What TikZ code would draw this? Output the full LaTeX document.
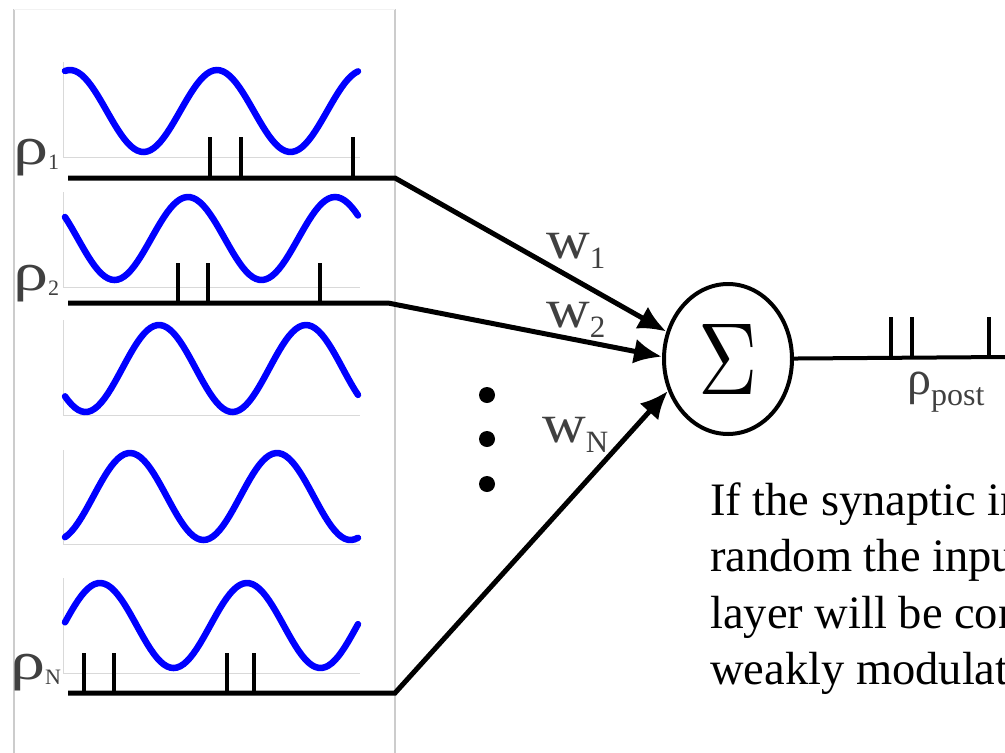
\documentclass[tikz,border=0pt]{standalone}
\usepackage{fontspec}
\setmainfont{Liberation Serif}
\usetikzlibrary{shapes.geometric,arrows.meta}

\tikzset{
  wave/.style={blue, line width=6.5pt, line cap=round},
  axisline/.style={black!15, line width=1pt},
  train/.style={line width=5pt},
  spike/.style={line width=4pt},
  syn/.style={line width=5pt, -{Latex[length=28pt,width=25pt]}},
  lbl/.style={text=black!75, inner sep=0pt, anchor=base west},
}

\newcommand{\rholbl}[1]{\scalebox{1.3}[1]{\fontsize{54}{54}\selectfont ρ}\raisebox{-5pt}{\fontsize{22}{22}\selectfont #1}}
\newcommand{\wlbl}[1]{\scalebox{1.1}[1]{\fontsize{55}{55}\selectfont w}\raisebox{-10pt}{\fontsize{31}{31}\selectfont #1}}

\begin{document}
\begin{tikzpicture}[x=1pt,y=-1pt]
			\useasboundingbox (0,0) rectangle (1005,753);
			\clip (0,0) rectangle (1005,753);

			% Frame of the input panel
			\draw[black!20, line width=1.2pt] (14,9) -- (14,753);
			\draw[black!20, line width=1.2pt] (395,9) -- (395,753);
			\draw[black!5, line width=1pt] (14,9) -- (395,9);

			% Oscillating inputs (period 147)
			\foreach \yc/\amp/\ph/\ybase/\ytop in {111/41/70/157/62, 238.5/41.5/188/287/192, 368.5/43.5/159/415/320, 496.5/43.5/130/544/450, 625.5/42.5/100/673/578}{
				\draw[axisline] (63,\ytop) -- (63,\ybase) -- (360,\ybase);
				\draw[wave] plot[domain=65:358, samples=90] (\x, {\yc-\amp*cos(2.449*(\x-\ph))});
			}

			% Define spike trains and the summing node
			\coordinate (s1) at (68,178);
			\coordinate (e1) at (395,178);
			\coordinate (s2) at (68,303);
			\coordinate (e2) at (388,303);
			\coordinate (sN) at (68,693);
			\coordinate (eN) at (395,693);
			\node[ellipse, draw, line width=4pt, minimum width=128pt, minimum height=150pt, inner sep=0pt] (sum) at (728,359) {\scalebox{8.2}[10.25]{$\Sigma$}};
			\coordinate (out) at (1005,357);

			\foreach \x in {210,241,353} \draw[spike] (\x,178) -- (\x,137);
			\foreach \x in {178,208,320} \draw[spike] (\x,303) -- (\x,263);
			\foreach \x in {84,114,227,254} \draw[spike] (\x,693) -- (\x,653);
			\foreach \x in {891,912,989} \draw[spike] (\x,357) -- (\x,317);

			% Draw synapses
			\draw[syn] (s1) -- (e1) -- (sum.156);
			\draw[syn] (s2) -- (e2) -- (sum.178);
			\draw[syn] (sN) -- (eN) -- (sum.208);
			\draw[line width=4pt] (sum) -- (out);

			% Labels
			\node[lbl] (rho1) at (13,164) {\rholbl{1}};
			\node[lbl] (rho2) at (13,290) {\rholbl{2}};
			\node[lbl] (rhoN) at (10,679) {\rholbl{N}};
			\node[lbl] (w1) at (546,258) {\wlbl{1}};
			\node[lbl] (w2) at (546,327) {\wlbl{2}};
			\node[lbl] (wN) at (542,442) {\wlbl{N}};
			\node[lbl] (rhopost) at (907,394) {{\fontsize{48}{48}\selectfont ρ}\raisebox{-11pt}{\fontsize{32}{32}\selectfont post}};
			\foreach \y [count=\i] in {395,439,484}
				\node[circle, fill, inner sep=0pt, minimum size=16pt] (dot\i) at (487,\y) {};

			% Caption
			\foreach \txt [count=\i] in {If the synaptic inputs are, random the input to the next, layer will be constant or, weakly modulated.}
				\node[anchor=base west, inner sep=0pt, font=\fontsize{46.5}{56}\selectfont] (para\i) at (710,{515+56.5*(\i-1)}) {\txt};

		\end{tikzpicture}
\end{document}
